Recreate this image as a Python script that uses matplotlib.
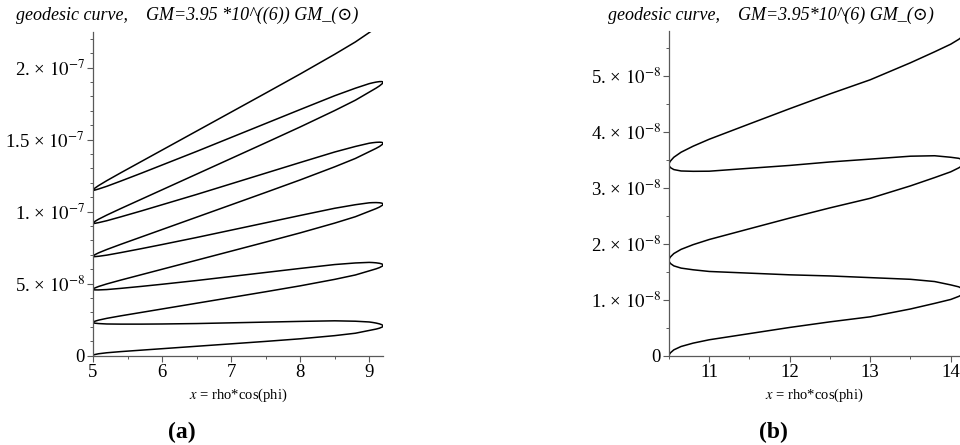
import matplotlib.pyplot as plt
import numpy as np

plt.rcParams['font.family'] = ['Liberation Serif', 'DejaVu Serif']
plt.rcParams['mathtext.fontset'] = 'stix'

# ---- panel (a): orbit, y in units of 1e-8 ----
xa = [5.0, 5.005, 5.02, 5.08, 5.2, 5.4, 5.7, 6.0, 6.5, 7.0, 7.5, 8.0,
      8.5, 8.8, 9.0, 9.05, 9.1, 9.15, 9.18, 9.19, 9.197, 9.2]
# branches going right (small x -> large x)
a_up = [
    [0, 0.03, 0.06, 0.12, 0.19, 0.27, 0.37, 0.47, 0.64, 0.81, 0.98, 1.16,
     1.38, 1.548, 1.74, 1.784, 1.836, 1.90, 1.957, 1.984, 2.014, 2.05],
    [2.30, 2.332, 2.369, 2.457, 2.582, 2.754, 2.992, 3.23, 3.63, 4.03, 4.43, 4.84,
     5.29, 5.596, 5.88, 5.947, 6.022, 6.109, 6.180, 6.211, 6.245, 6.282],
    [4.6, 4.634, 4.678, 4.794, 4.974, 5.238, 5.614, 5.99, 6.62, 7.25, 7.88, 8.52,
     9.20, 9.644, 10.02, 10.11, 10.208, 10.318, 10.403, 10.439, 10.475, 10.514],
    [6.9, 6.936, 6.987, 7.131, 7.366, 7.722, 8.236, 8.75, 9.61, 10.47, 11.33, 12.20,
     13.11, 13.692, 14.16, 14.273, 14.394, 14.527, 14.625, 14.666, 14.706, 14.746],
    [9.2, 9.238, 9.296, 9.468, 9.758, 10.206, 10.858, 11.51, 12.60, 13.69, 14.78, 15.88,
     17.02, 17.740, 18.30, 18.436, 18.58, 18.736, 18.848, 18.894, 18.936, 18.978],
    [11.5, 11.54, 11.605, 11.805, 12.15, 12.69, 13.48, 14.27, 15.59, 16.91, 18.23, 19.56,
     20.93, 21.788, 22.44, 22.599, 22.766, 22.945, 23.071, 23.121, 23.167, 23.21],
]
# branches coming back (listed on the same xa, drawn right -> left)
a_down = [
    [2.3, 2.27, 2.25, 2.22, 2.19, 2.18, 2.18, 2.19, 2.22, 2.27, 2.32, 2.37,
     2.41, 2.382, 2.33, 2.296, 2.254, 2.196, 2.143, 2.116, 2.086, 2.05],
    [4.6, 4.572, 4.559, 4.557, 4.582, 4.664, 4.802, 4.95, 5.21, 5.49, 5.77, 6.05,
     6.32, 6.43, 6.47, 6.459, 6.44, 6.405, 6.366, 6.343, 6.317, 6.282],
    [6.9, 6.874, 6.868, 6.894, 6.974, 7.148, 7.424, 7.71, 8.20, 8.71, 9.22, 9.73,
     10.23, 10.478, 10.61, 10.622, 10.626, 10.614, 10.589, 10.571, 10.547, 10.514],
    [9.2, 9.176, 9.177, 9.231, 9.366, 9.632, 10.046, 10.47, 11.19, 11.93, 12.67, 13.41,
     14.14, 14.526, 14.75, 14.785, 14.812, 14.823, 14.812, 14.798, 14.778, 14.746],
    [11.5, 11.478, 11.486, 11.568, 11.758, 12.116, 12.668, 13.23, 14.18, 15.15, 16.12, 17.09,
     18.05, 18.574, 18.89, 18.948, 18.998, 19.032, 19.034, 19.026, 19.008, 18.978],
]

# ---- panel (b) ----
xb = [10.5, 10.505, 10.52, 10.56, 10.65, 10.8, 11.0, 11.5, 12.0, 12.5, 13.0,
      13.5, 13.8, 14.0, 14.1, 14.14, 14.17]
b_up = [
    [0, 0.03, 0.06, 0.11, 0.17, 0.23, 0.29, 0.40, 0.51, 0.61, 0.70,
     0.84, 0.94, 1.01, 1.065, 1.095, 1.15],
    [1.71, 1.741, 1.773, 1.830, 1.905, 1.989, 2.081, 2.273, 2.464, 2.646, 2.817,
     3.039, 3.187, 3.29, 3.361, 3.398, 3.458],
    [3.42, 3.452, 3.486, 3.550, 3.640, 3.748, 3.872, 4.146, 4.418, 4.682, 4.934,
     5.238, 5.434, 5.57, 5.657, 5.701, 5.766],
]
b_down = [
    [1.71, 1.68, 1.65, 1.61, 1.57, 1.54, 1.51, 1.48, 1.45, 1.43, 1.40,
     1.37, 1.33, 1.27, 1.235, 1.205, 1.15],
    [3.42, 3.391, 3.363, 3.330, 3.305, 3.299, 3.301, 3.353, 3.404, 3.466, 3.517,
     3.569, 3.577, 3.55, 3.531, 3.508, 3.458],
]

a_yticks = [0, 5e-8, 1e-7, 1.5e-7, 2e-7]
a_ylabels = ['0', r'5. × $10^{-8}$', r'1. × $10^{-7}$',
             r'1.5 × $10^{-7}$', r'2. × $10^{-7}$']
b_yticks = [0, 1e-8, 2e-8, 3e-8, 4e-8, 5e-8]
b_ylabels = ['0', r'1. × $10^{-8}$', r'2. × $10^{-8}$', r'3. × $10^{-8}$',
             r'4. × $10^{-8}$', r'5. × $10^{-8}$']


def orbit_path(xs, ups, downs):
    px, py = [], []
    for k, up in enumerate(ups):
        px += xs
        py += up
        if k < len(downs):
            px += xs[::-1]
            py += downs[k][::-1]
    return np.array(px), np.array(py) * 1e-8


def style_axes(ax, xlim, ylim, xticks, xminor, yticks, ylabels, yminor):
    ax.set_xlim(*xlim)
    ax.set_ylim(*ylim)
    for s in ['top', 'right']:
        ax.spines[s].set_visible(False)
    for s in ['left', 'bottom']:
        ax.spines[s].set_color('0.35')
        ax.spines[s].set_linewidth(0.9)
    ax.set_xticks(xticks)
    ax.set_xticklabels([str(t) for t in xticks])
    ax.set_xticks(xminor, minor=True)
    ax.set_yticks(yticks)
    ax.set_yticklabels(ylabels)
    ax.set_yticks(yminor, minor=True)
    ax.tick_params(which='major', direction='out', length=4, width=0.8,
                   color='0.35', labelsize=13.5, pad=2)
    ax.tick_params(which='minor', direction='out', length=2.5, width=0.7,
                   color='0.35')
    ax.set_facecolor('none')


fig = plt.figure(figsize=(9.6, 4.45), dpi=100)

axa = fig.add_axes([93 / 960, 1 - 355.5 / 445, 290 / 960, 323.8 / 445])
x, y = orbit_path(xa, a_up, a_down)
axa.plot(x, y, color='black', lw=1.1)
style_axes(axa, (5, 9.2), (0, 2.25e-7), [5, 6, 7, 8, 9],
           [5.5, 6.5, 7.5, 8.5], a_yticks, a_ylabels,
           [i * 1e-8 for i in range(23)])
axa.set_xlabel(r'$x$ = rho*cos(phi)', fontsize=10.5, labelpad=4)

axb = fig.add_axes([669 / 960, 1 - 356 / 445, 291 / 960, 324.7 / 445])
x, y = orbit_path(xb, b_up, b_down)
axb.plot(x, y, color='black', lw=1.1)
style_axes(axb, (10.5, 14.115), (0, 5.8e-8), [11, 12, 13, 14],
           [10.5, 11.5, 12.5, 13.5], b_yticks, b_ylabels,
           [i * 0.5e-8 for i in range(12)])
axb.set_xlabel(r'$x$ = rho*cos(phi)', fontsize=10.5, labelpad=4)

fig.text(187 / 960, 1 - 15 / 445, 'geodesic curve,    GM=3.95 *10^((6)) GM_(\u2299)',
         ha='center', va='center', fontsize=13, style='italic')
fig.text(771 / 960, 1 - 15 / 445, 'geodesic curve,    GM=3.95*10^(6) GM_(\u2299)',
         ha='center', va='center', fontsize=13, style='italic')

fig.text(182 / 960, 1 - 432 / 445, '(a)', ha='center', va='center',
         fontsize=17, fontweight='bold')
fig.text(773 / 960, 1 - 432 / 445, '(b)', ha='center', va='center',
         fontsize=17, fontweight='bold')

fig.savefig('out.png', dpi=100)
